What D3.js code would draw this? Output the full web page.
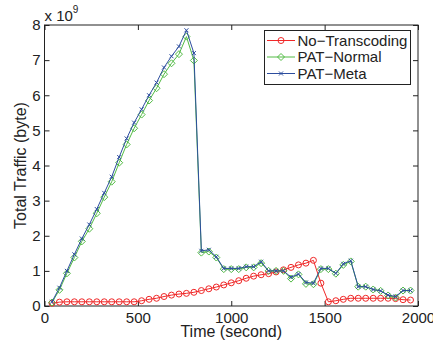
<!DOCTYPE html>
<html>
<head>
<meta charset="utf-8">
<script src="https://cdn.jsdelivr.net/npm/d3@7"></script>
<style>
  html, body { margin: 0; padding: 0; background: #fff; }
  svg { display: block; font-family: "Liberation Sans", Arial, Helvetica, sans-serif; }
  .axis path.domain { display: none; }
  .axis line { stroke: #222; stroke-width: 1; }
  .axis text { fill: #222; font-size: 15px; }
</style>
</head>
<body>
<svg id="chart" width="433" height="346"></svg>
<script>
// Sample times (seconds), one sample every 40 s
const times = [40, 80, 120, 160, 200, 240, 280, 320, 360, 400, 440, 480, 520, 560, 600, 640, 680, 720, 760, 800,
  840, 880, 920, 960, 1000, 1040, 1080, 1120, 1160, 1200, 1240, 1280, 1320, 1360, 1400, 1440, 1480, 1520, 1560, 1600,
  1640, 1680, 1720, 1760, 1800, 1840, 1880, 1920, 1960];

// Total traffic, in units of 1e9 bytes
const noTranscoding = [0.08, 0.11, 0.12, 0.12, 0.12, 0.12, 0.12, 0.12, 0.12, 0.12, 0.12, 0.12,
  0.15, 0.19, 0.22, 0.27, 0.31, 0.34, 0.36, 0.39,
  0.44, 0.49, 0.54, 0.60, 0.66, 0.72, 0.79, 0.85, 0.89, 0.92, 0.97, 1.03, 1.10, 1.17, 1.22, 1.30,
  0.65, 0.12, 0.15, 0.19, 0.22, 0.22, 0.22, 0.22, 0.22, 0.22, 0.21, 0.18, 0.17];

const patNormal = [0.10, 0.46, 0.93, 1.38, 1.84, 2.20, 2.64, 3.10, 3.54, 4.08, 4.60, 5.06, 5.45, 5.85, 6.20, 6.60, 6.91, 7.17, 7.67, 6.99,
  1.52, 1.55, 1.38, 1.05, 1.05, 1.05, 1.10, 1.10, 1.22, 1.00, 1.00, 1.00, 0.78, 0.90, 0.63, 0.62, 1.05, 1.05, 0.92, 1.17,
  1.27, 0.55, 0.55, 0.47, 0.43, 0.30, 0.24, 0.44, 0.44];

const patMeta = [0.12, 0.52, 1.00, 1.47, 1.92, 2.32, 2.76, 3.22, 3.68, 4.24, 4.77, 5.22, 5.60, 6.00, 6.36, 6.79, 7.11, 7.39, 7.85, 7.20,
  1.57, 1.60, 1.40, 1.07, 1.07, 1.07, 1.12, 1.12, 1.26, 1.00, 1.00, 1.00, 0.82, 0.91, 0.67, 0.65, 1.07, 1.07, 0.93, 1.20,
  1.29, 0.55, 0.55, 0.47, 0.43, 0.31, 0.27, 0.44, 0.44];

const seriesNames = ["No\u2212Transcoding", "PAT\u2212Normal", "PAT\u2212Meta"];
const xTicks = [0, 500, 1000, 1500, 2000];
const yTicks = [0, 1, 2, 3, 4, 5, 6, 7, 8];

const svg = d3.select("#chart");
const plotLeft = 44.5, plotRight = 418, plotTop = 25, plotBottom = 306;

const x = d3.scaleLinear().domain([0, 2000]).range([plotLeft, plotRight]);
const y = d3.scaleLinear().domain([0, 8]).range([plotBottom, plotTop]);

// Axes with inward ticks on all four sides
svg.append("g").attr("class", "axis").attr("transform", `translate(0,${plotBottom})`)
  .call(d3.axisBottom(x).tickValues(xTicks).tickSize(-5).tickPadding(6).tickFormat(d3.format("d")));
svg.append("g").attr("class", "axis").attr("transform", `translate(0,${plotTop})`)
  .call(d3.axisTop(x).tickValues(xTicks).tickSize(-5).tickFormat(""));
svg.append("g").attr("class", "axis").attr("transform", `translate(${plotLeft},0)`)
  .call(d3.axisLeft(y).tickValues(yTicks).tickSize(-5).tickPadding(4).tickFormat(d3.format("d")));
svg.append("g").attr("class", "axis").attr("transform", `translate(${plotRight},0)`)
  .call(d3.axisRight(y).tickValues(yTicks).tickSize(-5).tickFormat(""));

// Plot frame
svg.append("rect")
  .attr("x", plotLeft).attr("y", plotTop)
  .attr("width", plotRight - plotLeft).attr("height", plotBottom - plotTop)
  .attr("fill", "none").attr("stroke", "#222").attr("stroke-width", 1);

// Exponent note above the y axis
const expo = svg.append("text").attr("x", plotLeft).attr("y", 20.5)
  .attr("fill", "#222").style("font-size", "15px");
expo.append("tspan").text("x 10");
expo.append("tspan").attr("dy", -8).style("font-size", "10px").text("9");

// Axis titles
svg.append("text").attr("x", (plotLeft + plotRight) / 2).attr("y", 337)
  .attr("text-anchor", "middle").attr("fill", "#222").style("font-size", "16px")
  .text("Time (second)");
svg.append("text").attr("transform", `translate(26,${(plotTop + plotBottom) / 2}) rotate(-90)`)
  .attr("text-anchor", "middle").attr("fill", "#222").style("font-size", "16px")
  .text("Total Traffic (byte)");

// Marker shapes
function circleMark(g, cx, cy, color) {
  g.append("circle").attr("cx", cx).attr("cy", cy).attr("r", 3)
    .attr("fill", "none").attr("stroke", color).attr("stroke-width", 1);
}
function diamondMark(g, cx, cy, color) {
  const s = 3.5;
  g.append("path").attr("d", `M${cx},${cy - s}L${cx + s},${cy}L${cx},${cy + s}L${cx - s},${cy}Z`)
    .attr("fill", "none").attr("stroke", color).attr("stroke-width", 1);
}
function crossMark(g, cx, cy, color) {
  const s = 2;
  g.append("path").attr("d", `M${cx - s},${cy - s}L${cx + s},${cy + s}M${cx - s},${cy + s}L${cx + s},${cy - s}`)
    .attr("fill", "none").attr("stroke", color).attr("stroke-width", 1);
}

const series = [
  { name: seriesNames[0], values: noTranscoding, color: "#f02828", mark: circleMark },
  { name: seriesNames[1], values: patNormal, color: "#52bb44", mark: diamondMark },
  { name: seriesNames[2], values: patMeta, color: "#2c4d9e", mark: crossMark }
];

const line = d3.line().x((d, i) => x(times[i])).y(d => y(d));

series.forEach(s => {
  const g = svg.append("g");
  g.append("path").attr("d", line(s.values))
    .attr("fill", "none").attr("stroke", s.color).attr("stroke-width", 1);
  s.values.forEach((v, i) => s.mark(g, x(times[i]), y(v), s.color));
});

// Legend
const lg = svg.append("g");
lg.append("rect").attr("x", 264.5).attr("y", 30.5).attr("width", 146).attr("height", 54)
  .attr("fill", "#fff").attr("stroke", "#222").attr("stroke-width", 1);
series.forEach((s, i) => {
  const cy = 40.5 + i * 16.5;
  lg.append("line").attr("x1", 267).attr("x2", 295).attr("y1", cy).attr("y2", cy)
    .attr("stroke", s.color).attr("stroke-width", 1);
  s.mark(lg, 281, cy, s.color);
  lg.append("text").attr("x", 297.5).attr("y", cy).attr("dy", "0.35em")
    .attr("fill", "#222").style("font-size", "15px").text(s.name);
});
</script>
</body>
</html>
